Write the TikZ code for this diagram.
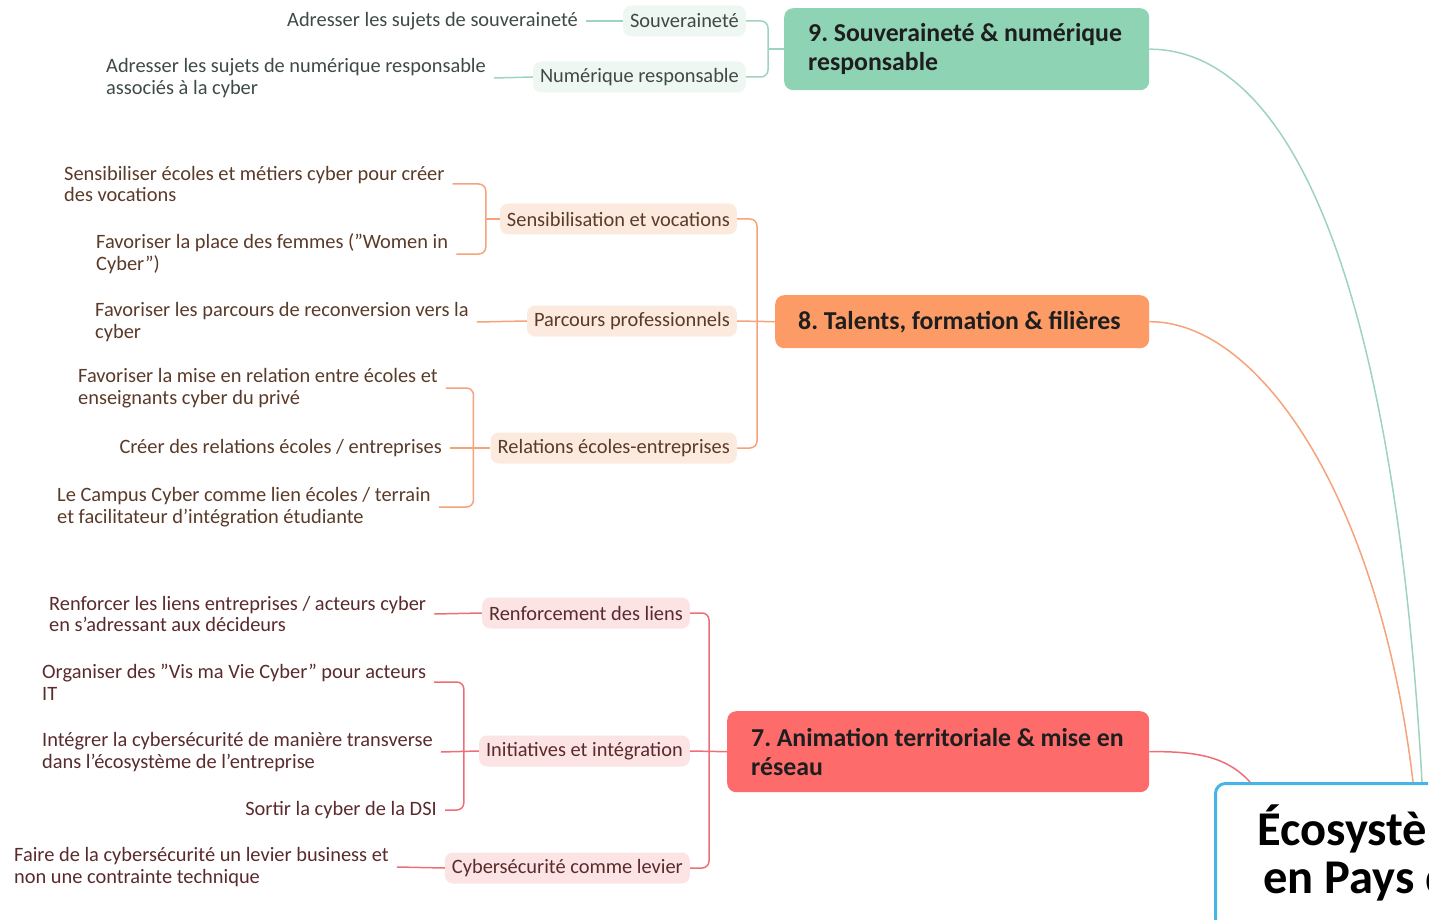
\documentclass[tikz,border=0pt]{standalone}
\usepackage{fontspec}
\setmainfont{Carlito}
\usetikzlibrary{calc}
\frenchspacing
\newcommand\tightsp{\spaceskip=0.22em plus 0.05em\relax}
\definecolor{gmain}{HTML}{8FD3B5}
\definecolor{gsub}{HTML}{EEF7F2}
\definecolor{gline}{HTML}{9ED2C2}
\definecolor{gtext}{HTML}{3E4A45}
\definecolor{omain}{HTML}{FC9B65}
\definecolor{osub}{HTML}{FDEADF}
\definecolor{oline}{HTML}{F6A27A}
\definecolor{otext}{HTML}{5A3A28}
\definecolor{rmain}{HTML}{FD6B6B}
\definecolor{rsub}{HTML}{FCE4E4}
\definecolor{rline}{HTML}{EE6E78}
\definecolor{rtext}{HTML}{5A2A2C}
\definecolor{ecoline}{HTML}{46B4E6}
\definecolor{dark}{HTML}{1E1E1E}
\begin{document}
\begin{tikzpicture}[x=1pt,y=-1pt,
  leaf/.style={font=\fontsize{20.4}{21.8}\selectfont, align=left, inner xsep=8pt, inner ysep=2pt},
  sub/.style={font=\fontsize{20.4}{21.8}\selectfont, rounded corners=8pt, inner xsep=7pt, minimum height=31pt, anchor=east},
  mainbox/.style={font=\bfseries\fontsize{25.8}{29}\selectfont, text=dark, rounded corners=9pt, align=left, anchor=north west, inner xsep=24pt},
  conn/.style={line width=1.5pt, rounded corners=7pt},
  curve/.style={line width=1.5pt},
  title/.style={font=\bfseries\fontsize{48.5}{48}\selectfont, text=black, anchor=base west, inner sep=0pt}]
\useasboundingbox (0,0) rectangle (1435,920);
\clip (0,0) rectangle (1428,920);
% ---------- main nodes
\node[mainbox, fill=gmain, text width=317pt, minimum height=82pt] (n9) at (784,8) {\tightsp\mbox{9. Souveraineté \& numérique}\\responsable};
\node[mainbox, fill=omain, text width=328pt, inner xsep=23pt, minimum height=53pt] (n8) at (775,295) {\tightsp\mbox{8. Talents, formation \& filières}};
\node[mainbox, fill=rmain, text width=374pt, minimum height=81pt] (n7) at (727,711) {\tightsp\mbox{7. Animation territoriale \& mise en}\\réseau};
% ---------- central node
\node[draw=ecoline, line width=3pt, fill=white, rounded corners=10pt, anchor=north west, minimum width=320pt, minimum height=240pt] (eco) at (1214,782) {};
\node[title] (eco1) at (1257,845) {Écosystème};
\node[title] (eco2) at (1263,893) {en Pays de};
% ---------- sub nodes
\node[sub, fill=gsub, text=gtext] (s9a) at (746,21) {Souveraineté};
\node[sub, fill=gsub, text=gtext] (s9b) at (746,77) {Numérique responsable};
\node[sub, fill=osub, text=otext] (s8a) at (737,219) {Sensibilisation et vocations};
\node[sub, fill=osub, text=otext] (s8b) at (737,321) {Parcours professionnels};
\node[sub, fill=osub, text=otext] (s8c) at (737,448) {Relations écoles-entreprises};
\node[sub, fill=rsub, text=rtext] (s7a) at (690,613) {Renforcement des liens};
\node[sub, fill=rsub, text=rtext] (s7b) at (690,751) {Initiatives et intégration};
\node[sub, fill=rsub, text=rtext] (s7c) at (690,868) {Cybersécurité comme levier};
% ---------- leaves
\node[leaf, text=gtext, anchor=east] (l9a) at (586,21) {Adresser les sujets de souveraineté};
\node[leaf, text=gtext, anchor=west] (l9b) at (98,78) {Adresser les sujets de numérique responsable\\associés à la cyber};
\node[leaf, text=otext, anchor=west] (l8a) at (56,184) {Sensibiliser écoles et métiers cyber pour créer\\des vocations};
\node[leaf, text=otext, anchor=west] (l8b) at (88,254) {Favoriser la place des femmes (\char"22 Women in\\Cyber\char"22)};
\node[leaf, text=otext, anchor=west] (l8c) at (87,322) {Favoriser les parcours de reconversion vers la\\cyber};
\node[leaf, text=otext, anchor=west] (l8d) at (70,388) {Favoriser la mise en relation entre écoles et\\enseignants cyber du privé};
\node[leaf, text=otext, anchor=east] (l8e) at (450,448) {Créer des relations écoles / entreprises};
\node[leaf, text=otext, anchor=west] (l8f) at (49,507) {Le Campus Cyber comme lien écoles / terrain\\et facilitateur d’intégration étudiante};
\node[leaf, text=rtext, anchor=west] (l7a) at (41,614) {Renforcer les liens entreprises / acteurs cyber\\en s’adressant aux décideurs};
\node[leaf, text=rtext, anchor=west] (l7b) at (34,682) {Organiser des \char"22 Vis ma Vie Cyber\char"22{} pour acteurs\\IT};
\node[leaf, text=rtext, anchor=west] (l7c) at (34,752) {Intégrer la cybersécurité de manière transverse\\dans l’écosystème de l’entreprise};
\node[leaf, text=rtext, anchor=east] (l7d) at (445,810) {Sortir la cyber de la DSI};
\node[leaf, text=rtext, anchor=west] (l7e) at (6,867) {Faire de la cybersécurité un levier business et\\non une contrainte technique};
% ---------- green connectors
\draw[conn, gline] (s9a.east) -| ($(n9.west)+(-16,0)$) |- (s9b.east);
\draw[conn, gline] (n9.west) -- ++(-16,0);
\draw[conn, gline] (l9a.east) -- (s9a.west);
\draw[conn, gline] (l9b.east) -- (s9b.west);
% ---------- orange connectors
\draw[conn, oline] (s8a.east) -| ($(n8.west)+(-18,0)$) |- (s8c.east);
\draw[conn, oline] (s8b.east) -- (n8.west);
\draw[conn, oline] (l8a.east) -| ($(s8a.west)+(-14,0)$) |- (l8b.east);
\draw[conn, oline] (s8a.west) -- ++(-14,0);
\draw[conn, oline] (l8c.east) -- (s8b.west);
\draw[conn, oline] (l8d.east) -| ($(s8c.west)+(-17,0)$) |- (l8f.east);
\draw[conn, oline] (l8e.east) -- (s8c.west);
% ---------- red connectors
\draw[conn, rline] (s7a.east) -| ($(n7.west)+(-18,0)$) |- (s7c.east);
\draw[conn, rline] (s7b.east) -- (n7.west);
\draw[conn, rline] (l7a.east) -- (s7a.west);
\draw[conn, rline] (l7b.east) -| ($(s7b.west)+(-15,0)$) |- (l7d.east);
\draw[conn, rline] (l7c.east) -- (s7b.west);
\draw[conn, rline] (l7e.east) -- (s7c.west);
% ---------- curves to central node
\coordinate (eg) at ($(eco.north west)+(208,0)$);
\coordinate (eo) at ($(eco.north west)+(199,0)$);
\coordinate (er) at ($(eco.north west)+(36,0)$);
\draw[curve, gline] (n9.east) .. controls (1280,49) and (1392,250) .. (eg);
\draw[curve, oline] (n8.east) .. controls (1260,321) and (1380,500) .. (eo);
\draw[curve, rline] (n7.east) .. controls (1200,751) and (1228,758) .. (er);
\end{tikzpicture}
\end{document}
